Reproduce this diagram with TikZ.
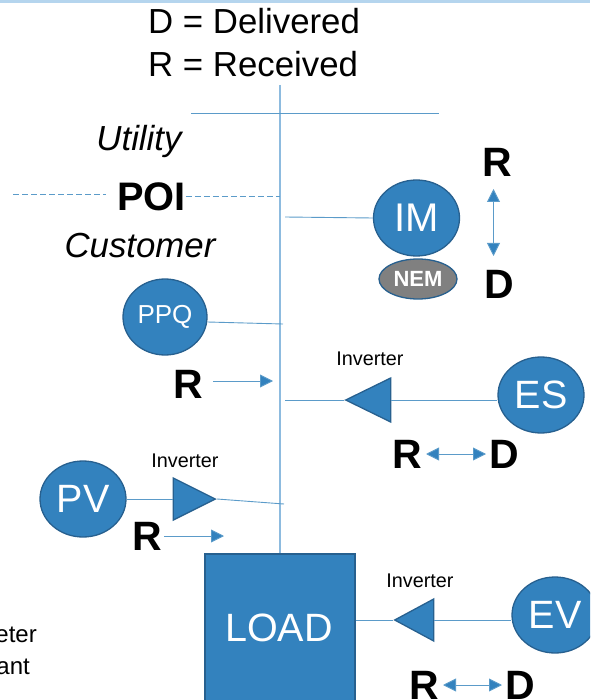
\documentclass[tikz,border=0pt]{standalone}
\usepackage{fontspec}
\setmainfont{Liberation Sans}
\usetikzlibrary{arrows.meta,shapes.geometric}
\definecolor{fillb}{HTML}{3382BE}
\definecolor{edgeb}{HTML}{27608F}
\definecolor{busb}{HTML}{8DBBDF}
\definecolor{lineb}{HTML}{5B9BC9}
\definecolor{band}{HTML}{B5D5EE}
\tikzset{
  x=1pt,y=-1pt,
  device/.style={ellipse,draw=edgeb,line width=1.3pt,fill=fillb,text=white,inner sep=0pt,minimum width=86pt,minimum height=76pt,font=\fontsize{39.5}{39.5}\selectfont},
  inv/.style={isosceles triangle,isosceles triangle stretches,draw=edgeb,line width=1.3pt,fill=fillb,inner sep=0pt,minimum width=42pt,minimum height=42pt,anchor=apex},
  conn/.style={draw=lineb,line width=0.9pt},
  bus/.style={draw=busb,line width=1.1pt},
  flow/.style={draw=lineb,line width=0.9pt,arrows={-Triangle[length=13pt,width=13pt,fill=fillb]}},
  flowboth/.style={draw=lineb,line width=0.9pt,arrows={Triangle[length=13pt,width=13pt,fill=fillb]-Triangle[length=13pt,width=13pt,fill=fillb]}},
  letter/.style={font=\bfseries\fontsize{41}{41}\selectfont,inner sep=0pt},
  legend/.style={font=\fontsize{34.8}{34.8}\selectfont,inner sep=0pt},
  side/.style={font=\itshape\fontsize{34.8}{34.8}\selectfont,inner sep=0pt},
  invlabel/.style={font=\fontsize{19.8}{19.8}\selectfont,inner sep=0pt},
  cutnote/.style={font=\fontsize{24}{24}\selectfont,inner sep=0pt,anchor=base east},
}
\begin{document}
\begin{tikzpicture}
\clip (0,0) rectangle (590,700);
\fill[band] (0,0) rectangle (590,3);

% free ends of the lines
\coordinate (busTop) at (280,85);
\coordinate (topL) at (191,113.5);
\coordinate (topR) at (439,113.5);
\coordinate (poiFar) at (13,194);
\coordinate (poiNear) at (106,194);
\coordinate (poiBus) at (280,196);
\coordinate (imBus) at (285,217);
\coordinate (ppqBus) at (283,324);
\coordinate (esBus) at (285,400);
\coordinate (pvBus) at (284,504);
\coordinate (rA1) at (213,381);
\coordinate (rA2) at (273,381);
\coordinate (rB1) at (164,536);
\coordinate (rB2) at (224,536);
\coordinate (imA1) at (493.5,189);
\coordinate (imA2) at (493.5,256);

% legend and labels
\node[legend,anchor=base west] (legD) at (148,34) {D = Delivered};
\node[legend,anchor=base west] (legR) at (148,77) {R = Received};
\node[side] (utility) at (139,142) {Utility};
\node[side] (customer) at (140,246) {Customer};
\node[font=\bfseries\fontsize{39.8}{39.8}\selectfont,inner sep=0pt] (poi) at (151.5,197) {POI};
\node[cutnote] (noteA) at (37,642) {eter};
\node[cutnote] (noteB) at (30,674) {ant};

% bus
\node[draw=edgeb,line width=1.3pt,fill=fillb,minimum width=150pt,minimum height=160pt,inner sep=0pt] (loadbox) at (280,634) {};
\node[text=white,font=\fontsize{39.5}{39.5}\selectfont,inner sep=0pt] (load) at (279,628) {LOAD};
\draw[bus] (busTop) -- (busTop |- loadbox.north);
\draw[conn] (topL) -- (topR);
\draw[conn,dash pattern=on 6pt off 3pt] (poiFar) -- (poiNear);
\draw[conn,dash pattern=on 6pt off 3pt] (poi.east |- poiBus) -- (poiBus);

% devices
\node[device,font=\fontsize{40}{40}\selectfont] (im) at (416.5,218) {IM};
\node[device,minimum width=78pt,minimum height=40pt,fill=gray,font=\bfseries\fontsize{22}{22}\selectfont] (nem) at (418,279) {NEM};
\node[device,minimum width=84pt,minimum height=76pt,font=\fontsize{26}{26}\selectfont] (ppq) at (165,317) {PPQ};
\node[device] (es) at (541,395) {ES};
\node[device] (pv) at (83,499) {PV};
\node[device] (ev) at (555,615) {EV};

% inverters
\node[inv,minimum width=44pt,minimum height=45pt,shape border rotate=180] (invES) at (344,400) {};
\node[inv] (invPV) at (217,499) {};
\node[inv,minimum width=42pt,minimum height=39pt,shape border rotate=180] (invEV) at (393,620) {};
\node[invlabel] (lblES) at (370,359) {Inverter};
\node[invlabel] (lblPV) at (185,461) {Inverter};
\node[invlabel] (lblEV) at (420,581) {Inverter};

% connectors
\draw[conn] (imBus) -- (im.west);
\draw[conn] (ppq.east) ++(0,5) -- (ppqBus);
\draw[conn] (esBus) -- (invES.apex);
\draw[conn] (invES.center -| invES.lower side) -- (es.west |- invES.center);
\draw[conn] (pv.east) -- (invPV.west);
\draw[conn] (invPV.apex) -- (pvBus);
\draw[conn] (loadbox.east |- invEV.apex) -- (invEV.apex);
\draw[conn] (invEV.center -| invEV.lower side) -- (ev.west |- invEV.center);

% R / D
\node[letter] (r1) at (497,162) {R};
\node[letter] (d1) at (499,284) {D};
\draw[flowboth] (imA1) -- (imA2);
\node[letter] (r2) at (188,384) {R};
\draw[flow] (rA1) -- (rA2);
\node[letter] (r3) at (407,454) {R};
\node[letter] (d3) at (504,454) {D};
\draw[flowboth] (r3.east) ++(4,0) -- ([xshift=-3pt]d3.west);
\node[letter] (r4) at (147,536) {R};
\draw[flow] (rB1) -- (rB2);
\node[letter] (r5) at (424,685) {R};
\node[letter] (d5) at (520,685) {D};
\draw[flowboth] (r5.east) ++(4,0) -- ([xshift=-3pt]d5.west);
\end{tikzpicture}
\end{document}
